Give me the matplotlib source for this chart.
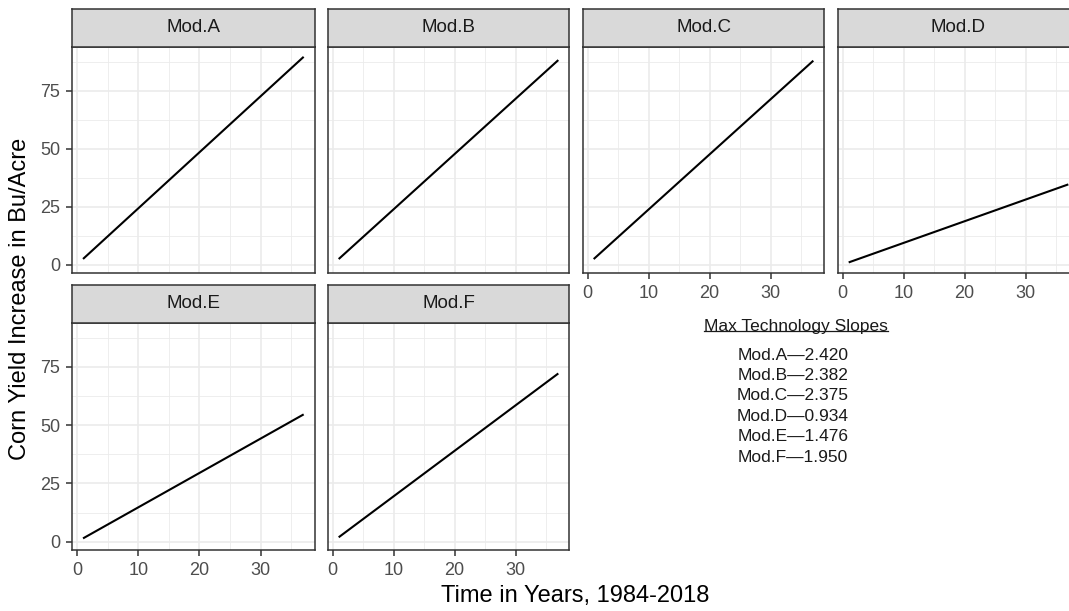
import matplotlib.pyplot as plt
import numpy as np

plt.rcParams['font.family'] = ['Liberation Sans', 'DejaVu Sans']

# model names and their max technology slopes (bu/acre per year)
models = ['Mod.A', 'Mod.B', 'Mod.C', 'Mod.D', 'Mod.E', 'Mod.F']
slopes = [2.420, 2.382, 2.375, 0.934, 1.476, 1.950]
# first and last year index of the trend lines
years = np.array([1, 37])

W, H = 1069, 611
fig = plt.figure(figsize=(W / 100, H / 100), dpi=100)

# panel boxes in pixels
col_x = [(72, 314.7), (327.7, 569.3), (582.7, 824.3), (837.7, 1079.3)]
row_y = [(46.7, 272.7), (322.7, 550)]
strip_h = 37.5

border = '#333333'
grid_major = '#EBEBEB'
tick_col = '#4D4D4D'


def px_box(x0, y0, x1, y1):
    return [x0 / W, 1 - y1 / H, (x1 - x0) / W, (y1 - y0) / H]


for i, (name, slope) in enumerate(zip(models, slopes)):
    r, c = divmod(i, 4)
    x0, x1 = col_x[c]
    y0, y1 = row_y[r]
    ax = fig.add_axes(px_box(x0, y0, x1, y1))
    ax.plot(years, slope * years, color='black', lw=1.5, solid_capstyle='butt')
    ax.set_xlim(-0.8, 38.8)
    ax.set_ylim(-3.5, 93.9)
    ax.set_xticks([0, 10, 20, 30])
    ax.set_xticks([5, 15, 25, 35], minor=True)
    ax.set_yticks([0, 25, 50, 75])
    ax.set_yticks([12.5, 37.5, 62.5, 87.5], minor=True)
    ax.grid(which='major', color=grid_major, lw=1.2)
    ax.grid(which='minor', color=grid_major, lw=0.6)
    ax.set_axisbelow(True)
    for sp in ax.spines.values():
        sp.set_color(border)
        sp.set_linewidth(1.1)
    ax.tick_params(which='major', length=4, width=1.1, color=border,
                   labelsize=13, labelcolor=tick_col, pad=4.5)
    ax.tick_params(which='minor', length=0)
    # x axis only where no panel sits below, y axis on first column
    if not (r == 1 or c >= 2):
        ax.tick_params(axis='x', which='major', bottom=False, labelbottom=False)
    if c != 0:
        ax.tick_params(axis='y', which='major', left=False, labelleft=False)

    # facet strip
    sx = fig.add_axes(px_box(x0, y0 - strip_h, x1, y0))
    sx.set_facecolor('#D9D9D9')
    sx.set_xticks([])
    sx.set_yticks([])
    for sp in sx.spines.values():
        sp.set_color(border)
        sp.set_linewidth(1.1)
    sx.text(0.5, 0.5, name, ha='center', va='center', fontsize=13.5,
            color='#1A1A1A', transform=sx.transAxes)

fig.text(575.5 / W, 1 - 596 / H, 'Time in Years, 1984-2018', ha='center',
         va='center', fontsize=17, color='black')
fig.text(20 / W, 1 - 299 / H, 'Corn Yield Increase in Bu/Acre', ha='center',
         va='center', rotation=90, fontsize=17, color='black')

# slope summary beside the empty facet slots
title = fig.text(796 / W, 1 - 326 / H, 'Max Technology Slopes', ha='center',
                 va='center', fontsize=12.5, color='#1A1A1A')
fig.canvas.draw()
bb = title.get_window_extent()
fig.add_artist(plt.Line2D([bb.x0 / W, bb.x1 / W],
                          [(bb.y0 + 2.5) / H, (bb.y0 + 2.5) / H],
                          color='#1A1A1A', lw=0.9))
for j, (name, slope) in enumerate(zip(models, slopes)):
    fig.text(793 / W, 1 - (355 + j * 20.4) / H, f'{name}\u2014{slope:.3f}',
             ha='center', va='center', fontsize=12.5, color='#1A1A1A')

fig.savefig('out.png', dpi=100)
